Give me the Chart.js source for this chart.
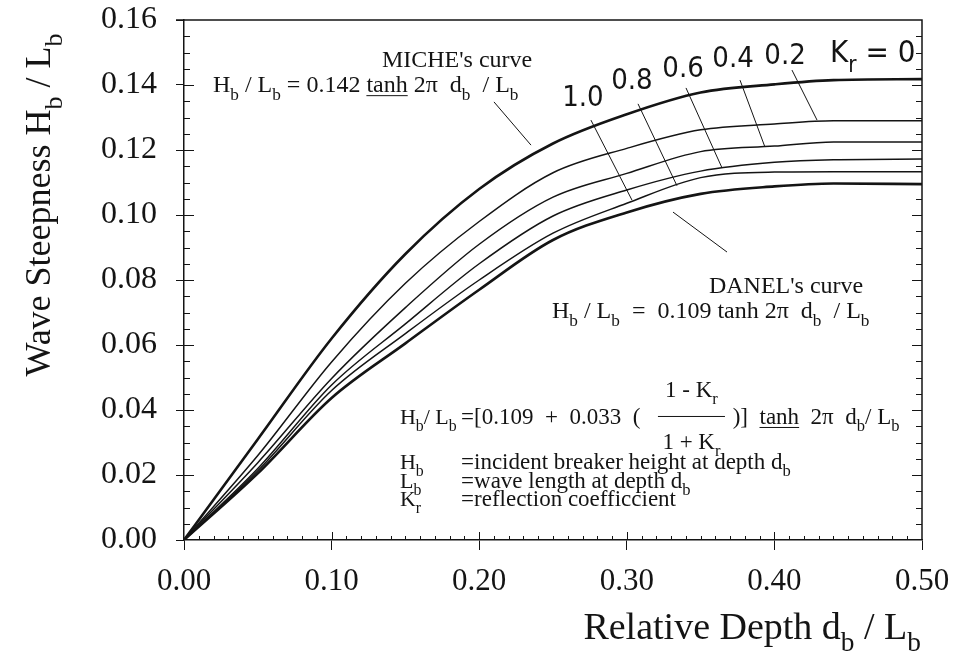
<!DOCTYPE html>
<html>
<head>
<meta charset="utf-8">
<script src="https://cdn.jsdelivr.net/npm/chart.js@4.4.1/dist/chart.umd.min.js"></script>
<style>
  html, body { margin: 0; padding: 0; background: #fff; }
  canvas { display: block; }
</style>
</head>
<body>
<canvas id="waveChart" width="955" height="657"></canvas>
<script>
// relative depth d_b / L_b (shared by every curve)
const depth = [0, 0.05, 0.10, 0.15, 0.20, 0.25, 0.30, 0.35, 0.40, 0.44, 0.50];

// wave steepness H_b / L_b, one list per reflection coefficient
const kr00 = [0, 0.0310, 0.0620, 0.0880, 0.1080, 0.1220, 0.1310, 0.1377, 0.1402, 0.1415, 0.1418];
const kr02 = [0, 0.0260, 0.0548, 0.0790, 0.0980, 0.1130, 0.1205, 0.1262, 0.1280, 0.1290, 0.1290];
const kr04 = [0, 0.0238, 0.0497, 0.0715, 0.0910, 0.1055, 0.1128, 0.1195, 0.1212, 0.1225, 0.1225];
const kr06 = [0, 0.0220, 0.0477, 0.0665, 0.0850, 0.0997, 0.1077, 0.1135, 0.1162, 0.1170, 0.1172];
const kr08 = [0, 0.0213, 0.0460, 0.0635, 0.0800, 0.0944, 0.1036, 0.1115, 0.1132, 0.1133, 0.1133];
const kr10 = [0, 0.0205, 0.0437, 0.0605, 0.0770, 0.0923, 0.1008, 0.1065, 0.1088, 0.1097, 0.1095];

const curveNames = ["Kr = 0 (MICHE)", "Kr = 0.2", "Kr = 0.4", "Kr = 0.6", "Kr = 0.8", "Kr = 1.0 (DANEL)"];
const curves = [kr00, kr02, kr04, kr06, kr08, kr10];
const curveLabels = ["0.2", "0.4", "0.6", "0.8", "1.0"];

const xTicks = [0, 0.1, 0.2, 0.3, 0.4, 0.5];
const yTicks = [0, 0.02, 0.04, 0.06, 0.08, 0.10, 0.12, 0.14, 0.16];

const ink = "#141414";
const serif = "'Liberation Serif', 'Times New Roman', serif";
const narrow = "'Liberation Sans Narrow', 'DejaVu Sans Condensed', sans-serif";

// draws text where "_x" parts are subscripts and "~x" parts are underlined
function drawRich(ctx, x, y, parts, size, align, family) {
  family = family || serif;
  const items = parts.map(p => {
    const sub = p[0] === "_", ul = p[0] === "~";
    const t = (sub || ul) ? p.slice(1) : p;
    const fs = sub ? size * 0.72 : size;
    ctx.font = fs + "px " + family;
    return { t, sub, ul, fs, w: ctx.measureText(t).width };
  });
  const total = items.reduce((s, it) => s + it.w, 0);
  let cx = align === "center" ? x - total / 2 : align === "right" ? x - total : x;
  items.forEach(it => {
    ctx.font = it.fs + "px " + family;
    ctx.fillText(it.t, cx, it.sub ? y + size * 0.32 : y);
    if (it.ul) ctx.fillRect(cx, y + 3, it.w, 1);
    cx += it.w;
  });
  return cx;
}

// leader lines, in data units [x1, y1, x2, y2]
const leaders = [
  [0.2100, 0.1348, 0.2351, 0.1215],  // MICHE
  [0.3313, 0.1009, 0.3679, 0.0886],  // DANEL
  [0.2757, 0.1292, 0.3035, 0.1046],  // 1.0
  [0.3076, 0.1342, 0.3340, 0.1090],  // 0.8
  [0.3401, 0.1391, 0.3645, 0.1145],  // 0.6
  [0.3767, 0.1415, 0.3936, 0.1209],  // 0.4
  [0.4119, 0.1446, 0.4289, 0.1292]   // 0.2
];
// label anchors (centre x, baseline y) for the Kr values, same order as curveLabels
const labelPos = [[0.4072, 0.1465], [0.3720, 0.1455], [0.3381, 0.1425], [0.3035, 0.1388], [0.2703, 0.1335]];

const annotate = {
  id: "annotate",
  afterDraw(chart) {
    const { ctx, chartArea: a, scales: { x, y } } = chart;
    const X = v => x.getPixelForValue(v), Y = v => y.getPixelForValue(v);
    ctx.save();
    ctx.strokeStyle = ink;
    ctx.fillStyle = ink;
    ctx.textBaseline = "alphabetic";

    // frame: top and right sides
    ctx.lineWidth = 1.5;
    ctx.beginPath();
    ctx.moveTo(a.left - 8, a.top);
    ctx.lineTo(a.right, a.top);
    ctx.lineTo(a.right, a.bottom);
    ctx.stroke();

    // inner ticks
    ctx.lineWidth = 1;
    ctx.beginPath();
    for (let k = 1; k < 32; k++) {
      const py = Math.round(Y(k * 0.005)) + 0.5;
      const len = k % 4 === 0 ? 10 : 6;
      ctx.moveTo(a.left, py); ctx.lineTo(a.left + len, py);
      ctx.moveTo(a.right, py); ctx.lineTo(a.right - len, py);
    }
    for (let k = 1; k < 50; k++) {
      const px = Math.round(X(k * 0.01)) + 0.5;
      const len = k % 10 === 0 ? 8 : 4;
      ctx.moveTo(px, a.bottom); ctx.lineTo(px, a.bottom - len);
    }
    ctx.stroke();

    // leader lines
    ctx.lineWidth = 1;
    ctx.beginPath();
    leaders.forEach(l => { ctx.moveTo(X(l[0]), Y(l[1])); ctx.lineTo(X(l[2]), Y(l[3])); });
    ctx.stroke();

    // Kr labels
    curveLabels.forEach((t, i) => {
      drawRich(ctx, X(labelPos[i][0]), Y(labelPos[i][1]), [t], 29, "center", narrow);
    });
    drawRich(ctx, X(0.4377), Y(0.1471), ["K", "_r", " = 0"], 31, "left", narrow);

    // MICHE / DANEL notes
    drawRich(ctx, X(0.185), Y(0.1455), ["MICHE's curve"], 24, "center");
    drawRich(ctx, X(0.0196), Y(0.1378), ["H", "_b", " / L", "_b", " = 0.142 ", "~tanh", " 2\u03c0  d", "_b", "  / L", "_b"], 24);
    drawRich(ctx, X(0.4079), Y(0.0760), ["DANEL's curve"], 24, "center");
    drawRich(ctx, X(0.2493), Y(0.0683), ["H", "_b", " / L", "_b", "  =  0.109 tanh 2\u03c0  d", "_b", "  / L", "_b"], 24);

    // general formula
    const fy = Y(0.0357);
    drawRich(ctx, X(0.1463), fy, ["H", "_b", "/ L", "_b"], 22);
    drawRich(ctx, X(0.1877), fy, ["=[0.109  +  0.033  ("], 23);
    const f0 = X(0.3211), f1 = X(0.3665), fc = (f0 + f1) / 2;
    ctx.beginPath();
    ctx.moveTo(f0, fy - 7.5); ctx.lineTo(f1, fy - 7.5);
    ctx.stroke();
    drawRich(ctx, fc, fy - 27, ["1 - K", "_r"], 23, "center");
    drawRich(ctx, fc, fy + 25, ["1 + K", "_r"], 23, "center");
    drawRich(ctx, f1 + 2, fy, [" )]  ", "~tanh", "  2\u03c0  d", "_b", "/ L", "_b"], 23);

    // definitions
    const defs = [
      [["H", "_b"], ["=incident breaker height at depth d", "_b"], 0.0220],
      [["L", "_b"], ["=wave length at depth d", "_b"], 0.0161],
      [["K", "_r"], ["=reflection coefficcient"], 0.0105]
    ];
    defs.forEach(d => {
      drawRich(ctx, X(0.1463), Y(d[2]), d[0], 22);
      drawRich(ctx, X(0.1877), Y(d[2]), d[1], 23);
    });

    // axis titles
    drawRich(ctx, 921, 639, ["Relative Depth d", "_b", " / L", "_b"], 38, "right");
    ctx.translate(50, 205);
    ctx.rotate(-Math.PI / 2);
    drawRich(ctx, 0, 0, ["Wave Steepness H", "_b", " / L", "_b"], 36, "center");
    ctx.restore();
  }
};

const datasets = curves.map((vals, i) => ({
  label: curveNames[i],
  data: depth.map((d, j) => ({ x: d, y: vals[j] })),
  borderColor: ink,
  borderWidth: (i === 0 || i === curves.length - 1) ? 2.6 : 1.5,
  pointRadius: 0,
  fill: false,
  cubicInterpolationMode: "monotone"
}));

new Chart(document.getElementById("waveChart"), {
  type: "line",
  data: { datasets },
  options: {
    responsive: false,
    animation: false,
    devicePixelRatio: 1,
    layout: { padding: { top: 20, right: 33, left: 0, bottom: 0 } },
    plugins: { legend: { display: false }, tooltip: { enabled: false } },
    scales: {
      x: {
        type: "linear",
        min: 0,
        max: 0.5,
        afterBuildTicks: s => { s.ticks = xTicks.map(v => ({ value: v })); },
        afterFit: s => { s.height = 117; s.paddingLeft = 0; s.paddingRight = 0; },
        ticks: {
          callback: v => v.toFixed(2),
          color: ink,
          padding: 13,
          maxRotation: 0,
          font: { family: serif, size: 31 }
        },
        grid: { drawOnChartArea: false, tickLength: 10, color: ink, lineWidth: 1 },
        border: { color: ink, width: 1.5 }
      },
      y: {
        type: "linear",
        min: 0,
        max: 0.16,
        afterBuildTicks: s => { s.ticks = yTicks.map(v => ({ value: v })); },
        afterFit: s => { s.width = 184; s.paddingTop = 0; s.paddingBottom = 0; },
        ticks: {
          callback: v => v.toFixed(2),
          color: ink,
          padding: 19,
          font: { family: serif, size: 32 }
        },
        grid: { drawOnChartArea: false, tickLength: 8, color: ink, lineWidth: 1 },
        border: { color: ink, width: 1.5 }
      }
    }
  },
  plugins: [annotate]
});
</script>
</body>
</html>
